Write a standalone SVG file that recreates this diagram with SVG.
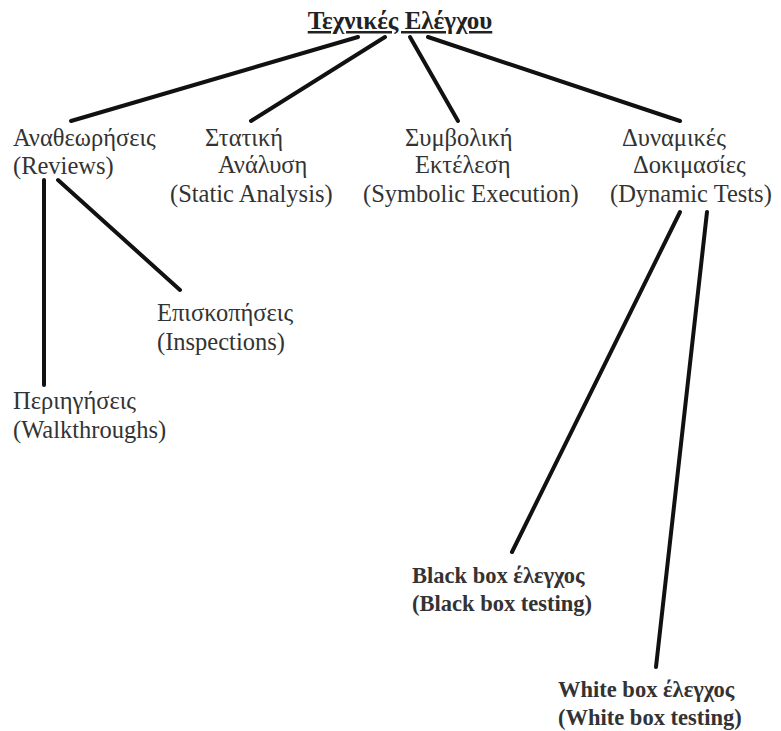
<svg xmlns="http://www.w3.org/2000/svg" width="781" height="731" viewBox="0 0 781 731">
  <style>
    .lbl { font-family: "Liberation Serif", "DejaVu Serif", serif; font-size: 24.5px; fill: #333; }
    .bold { font-family: "Liberation Serif", "DejaVu Serif", serif; font-size: 22.5px; font-weight: bold; fill: #333; }
    .title { font-family: "Liberation Serif", "DejaVu Serif", serif; font-size: 25px; font-weight: bold; fill: #222; text-decoration: underline; }
    .edge { stroke: #111; stroke-width: 4; stroke-linecap: round; fill: none; }
  </style>
  <rect width="781" height="731" fill="#fff"/>

  <g id="connectors">
    <line class="edge" x1="358" y1="37" x2="71" y2="121"/>
    <line class="edge" x1="385" y1="37" x2="251" y2="121"/>
    <line class="edge" x1="410" y1="37" x2="458" y2="121"/>
    <line class="edge" x1="428" y1="37" x2="680" y2="121"/>
    <line class="edge" x1="44" y1="180" x2="44" y2="385"/>
    <line class="edge" x1="58" y1="180" x2="180" y2="290"/>
    <line class="edge" x1="680" y1="212" x2="512" y2="552"/>
    <line class="edge" x1="707" y1="212" x2="656" y2="667"/>
  </g>

  <g id="root">
    <text class="title" x="400" y="29" text-anchor="middle">Τεχνικές Ελέγχου</text>
  </g>

  <g id="reviews">
    <text class="lbl" x="13" y="146">Αναθεωρήσεις</text>
    <text class="lbl" x="13" y="174">(Reviews)</text>
  </g>

  <g id="static-analysis">
    <text class="lbl" x="205" y="146">Στατική</text>
    <text class="lbl" x="218" y="173">Ανάλυση</text>
    <text class="lbl" x="170" y="202">(Static Analysis)</text>
  </g>

  <g id="symbolic-execution">
    <text class="lbl" x="405" y="146">Συμβολική</text>
    <text class="lbl" x="415" y="173">Εκτέλεση</text>
    <text class="lbl" x="363" y="202">(Symbolic Execution)</text>
  </g>

  <g id="dynamic-tests">
    <text class="lbl" x="622" y="146">Δυναμικές</text>
    <text class="lbl" x="633" y="173">Δοκιμασίες</text>
    <text class="lbl" x="610" y="202">(Dynamic Tests)</text>
  </g>

  <g id="inspections">
    <text class="lbl" x="157" y="321">Επισκοπήσεις</text>
    <text class="lbl" x="157" y="350">(Inspections)</text>
  </g>

  <g id="walkthroughs">
    <text class="lbl" x="13" y="409">Περιηγήσεις</text>
    <text class="lbl" x="13" y="438">(Walkthroughs)</text>
  </g>

  <g id="black-box">
    <text class="bold" x="412" y="583">Black box έλεγχος</text>
    <text class="bold" x="412" y="611">(Black box testing)</text>
  </g>

  <g id="white-box">
    <text class="bold" x="558" y="697">White box έλεγχος</text>
    <text class="bold" x="558" y="725">(White box testing)</text>
  </g>
</svg>
